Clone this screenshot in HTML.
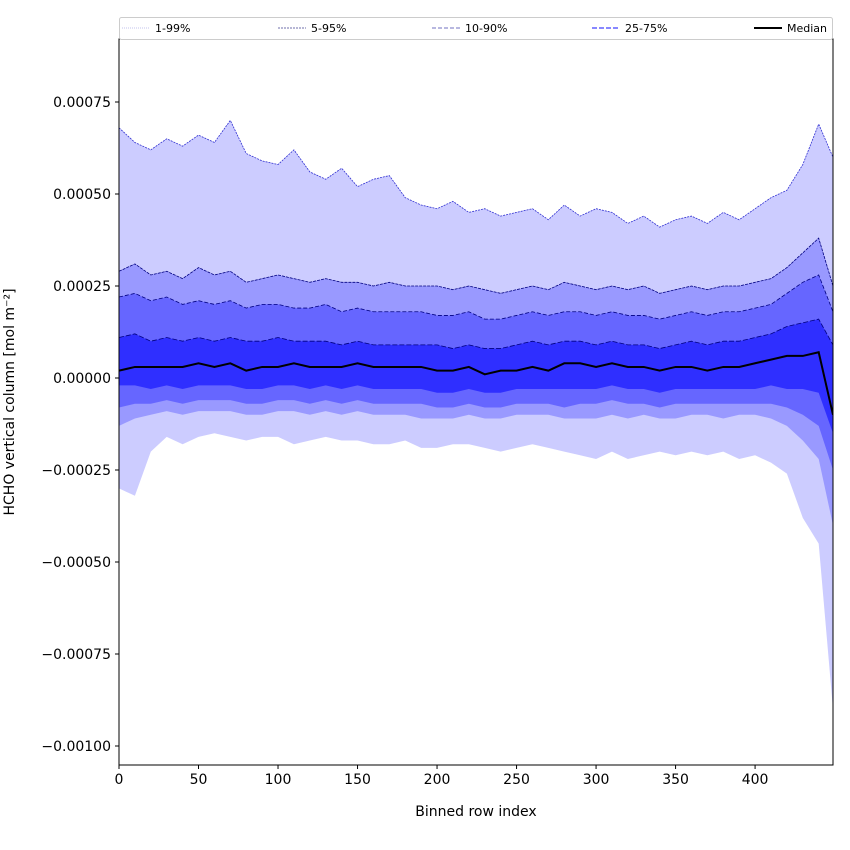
<!DOCTYPE html>
<html><head><meta charset="utf-8"><style>
html,body{margin:0;padding:0;background:#fff;}
svg{display:block;font-family:"DejaVu Sans","Liberation Sans",sans-serif;}
</style></head><body>
<svg id="chart" width="850" height="850" viewBox="0 0 850 850" xmlns="http://www.w3.org/2000/svg"></svg>
<script>
const xIdx = [0,10,20,30,40,50,60,70,80,90,100,110,120,130,140,150,160,170,180,190,200,210,220,230,240,250,260,270,280,290,300,310,320,330,340,350,360,370,380,390,400,410,420,430,440,449];
const p99 = [6.8,6.4,6.2,6.5,6.3,6.6,6.4,7.0,6.1,5.9,5.8,6.2,5.6,5.4,5.7,5.2,5.4,5.5,4.9,4.7,4.6,4.8,4.5,4.6,4.4,4.5,4.6,4.3,4.7,4.4,4.6,4.5,4.2,4.4,4.1,4.3,4.4,4.2,4.5,4.3,4.6,4.9,5.1,5.8,6.9,6.0];
const p95 = [2.9,3.1,2.8,2.9,2.7,3.0,2.8,2.9,2.6,2.7,2.8,2.7,2.6,2.7,2.6,2.6,2.5,2.6,2.5,2.5,2.5,2.4,2.5,2.4,2.3,2.4,2.5,2.4,2.6,2.5,2.4,2.5,2.4,2.5,2.3,2.4,2.5,2.4,2.5,2.5,2.6,2.7,3.0,3.4,3.8,2.5];
const p90 = [2.2,2.3,2.1,2.2,2.0,2.1,2.0,2.1,1.9,2.0,2.0,1.9,1.9,2.0,1.8,1.9,1.8,1.8,1.8,1.8,1.7,1.7,1.8,1.6,1.6,1.7,1.8,1.7,1.8,1.8,1.7,1.8,1.7,1.7,1.6,1.7,1.8,1.7,1.8,1.8,1.9,2.0,2.3,2.6,2.8,1.8];
const p75 = [1.1,1.2,1.0,1.1,1.0,1.1,1.0,1.1,1.0,1.0,1.1,1.0,1.0,1.0,0.9,1.0,0.9,0.9,0.9,0.9,0.9,0.8,0.9,0.8,0.8,0.9,1.0,0.9,1.0,1.0,0.9,1.0,0.9,0.9,0.8,0.9,1.0,0.9,1.0,1.0,1.1,1.2,1.4,1.5,1.6,0.9];
const p50 = [0.2,0.3,0.3,0.3,0.3,0.4,0.3,0.4,0.2,0.3,0.3,0.4,0.3,0.3,0.3,0.4,0.3,0.3,0.3,0.3,0.2,0.2,0.3,0.1,0.2,0.2,0.3,0.2,0.4,0.4,0.3,0.4,0.3,0.3,0.2,0.3,0.3,0.2,0.3,0.3,0.4,0.5,0.6,0.6,0.7,-1.0];
const p25 = [-0.2,-0.2,-0.3,-0.2,-0.3,-0.2,-0.2,-0.2,-0.3,-0.3,-0.2,-0.2,-0.3,-0.2,-0.3,-0.2,-0.3,-0.3,-0.3,-0.3,-0.4,-0.4,-0.3,-0.4,-0.4,-0.3,-0.3,-0.3,-0.3,-0.3,-0.3,-0.2,-0.3,-0.3,-0.4,-0.3,-0.3,-0.3,-0.3,-0.3,-0.3,-0.2,-0.3,-0.3,-0.4,-1.5];
const p10 = [-0.8,-0.7,-0.7,-0.6,-0.7,-0.6,-0.6,-0.6,-0.7,-0.7,-0.6,-0.6,-0.7,-0.6,-0.7,-0.6,-0.7,-0.7,-0.7,-0.7,-0.8,-0.8,-0.7,-0.8,-0.8,-0.7,-0.7,-0.7,-0.8,-0.7,-0.7,-0.6,-0.7,-0.7,-0.8,-0.7,-0.7,-0.7,-0.7,-0.7,-0.7,-0.7,-0.8,-1.0,-1.3,-2.5];
const p5 = [-1.3,-1.1,-1.0,-0.9,-1.0,-0.9,-0.9,-0.9,-1.0,-1.0,-0.9,-0.9,-1.0,-0.9,-1.0,-0.9,-1.0,-1.0,-1.0,-1.1,-1.1,-1.1,-1.0,-1.1,-1.1,-1.0,-1.0,-1.0,-1.1,-1.1,-1.1,-1.0,-1.1,-1.0,-1.1,-1.1,-1.0,-1.0,-1.1,-1.0,-1.0,-1.1,-1.3,-1.7,-2.2,-4.0];
const p1 = [-3.0,-3.2,-2.0,-1.6,-1.8,-1.6,-1.5,-1.6,-1.7,-1.6,-1.6,-1.8,-1.7,-1.6,-1.7,-1.7,-1.8,-1.8,-1.7,-1.9,-1.9,-1.8,-1.8,-1.9,-2.0,-1.9,-1.8,-1.9,-2.0,-2.1,-2.2,-2.0,-2.2,-2.1,-2.0,-2.1,-2.0,-2.1,-2.0,-2.2,-2.1,-2.3,-2.6,-3.8,-4.5,-9.0];
const xTicks = [0,50,100,150,200,250,300,350,400];
const yTicks = [7.5,5,2.5,0,-2.5,-5,-7.5,-10];
const yTickLabels = ["0.00075","0.00050","0.00025","0.00000","\u22120.00025","\u22120.00050","\u22120.00075","\u22120.00100"];

const L=119,R=833,T=39,B=765;
const X = v => L + v*(714/449);
const Y = v => 378 - v*36.8; // v in 1e-4
const NS="http://www.w3.org/2000/svg";
const svg=document.getElementById('chart');
function mk(tag,attrs,parent){const e=document.createElementNS(NS,tag);for(const k in attrs)e.setAttribute(k,attrs[k]);(parent||svg).appendChild(e);return e;}

const clip=mk('clipPath',{id:'cp'});mk('rect',{x:L,y:T,width:R-L,height:B-T},clip);
const g=mk('g',{'clip-path':'url(#cp)'});
function band(lo,hi,color,name){
  let pts=xIdx.map((x,i)=>X(x)+','+Y(hi[i]));
  pts=pts.concat(xIdx.map((x,i)=>X(x)+','+Y(lo[i])).reverse());
  const p=mk('polygon',{points:pts.join(' '),fill:color},g);
  
  
}
band(p1,p99,'#ccccff','band-1-99');
band(p5,p95,'#9999ff','band-5-95');
band(p10,p90,'#6666ff','band-10-90');
band(p25,p75,'#2f2fff','band-25-75');
function line(arr,color,w,dash,name){
  const p=mk('polyline',{points:xIdx.map((x,i)=>X(x)+','+Y(arr[i])).join(' '),fill:'none',stroke:color,'stroke-width':w,'stroke-dasharray':dash},g);
  
  
}
line(p99,'#3030d0',0.8,'2,1','line-p99');
line(p95,'#000080',0.8,'3,1','line-p95');
line(p90,'#000080',0.8,'4,2','line-p90');
line(p75,'#000080',0.8,'5,2','line-p75');
line(p50,'#000000',2,'none','line-median');

mk('rect',{x:L,y:T,width:R-L,height:B-T,fill:'none',stroke:'#000','stroke-width':1});
xTicks.forEach(t=>{
  mk('line',{x1:X(t),x2:X(t),y1:B,y2:B+4,stroke:'#000'});
  const tx=mk('text',{x:X(t),y:B+19,'text-anchor':'middle','font-size':14});tx.textContent=t;
  
  
});
yTicks.forEach((t,i)=>{
  mk('line',{x1:L-4,x2:L,y1:Y(t),y2:Y(t),stroke:'#000'});
  const tx=mk('text',{x:L-8,y:Y(t)+5,'text-anchor':'end','font-size':14});tx.textContent=yTickLabels[i];
  
  
});
const xt=mk('text',{x:(L+R)/2,y:816,'text-anchor':'middle','font-size':14});xt.textContent='Binned row index';


const yt=mk('text',{x:0,y:0,'text-anchor':'middle','font-size':14,transform:'translate(14,402) rotate(-90)'});yt.textContent='HCHO vertical column [mol m\u207B\u00B2]';



const lg=mk('g',{});


mk('rect',{x:119.5,y:17.5,width:713,height:22,fill:'#fff',stroke:'#ccc',rx:2},lg);
const entries=[[122,'1-99%','#b0b0e8','1,1',0.8],[278,'5-95%','#404090','2,1',0.8],[432,'10-90%','#7070c0','4,2',1],[592,'25-75%','#4040ff','5,2',1.2],[754,'Median','#000','none',2]];
entries.forEach(e=>{
  const eg=mk('g',{},lg);
  
  
  mk('line',{x1:e[0],x2:e[0]+28,y1:28,y2:28,stroke:e[2],'stroke-width':e[4],'stroke-dasharray':e[3]},eg);
  const t=mk('text',{x:e[0]+33,y:32,'font-size':11},eg);t.textContent=e[1];
});
</script>
</body></html>
